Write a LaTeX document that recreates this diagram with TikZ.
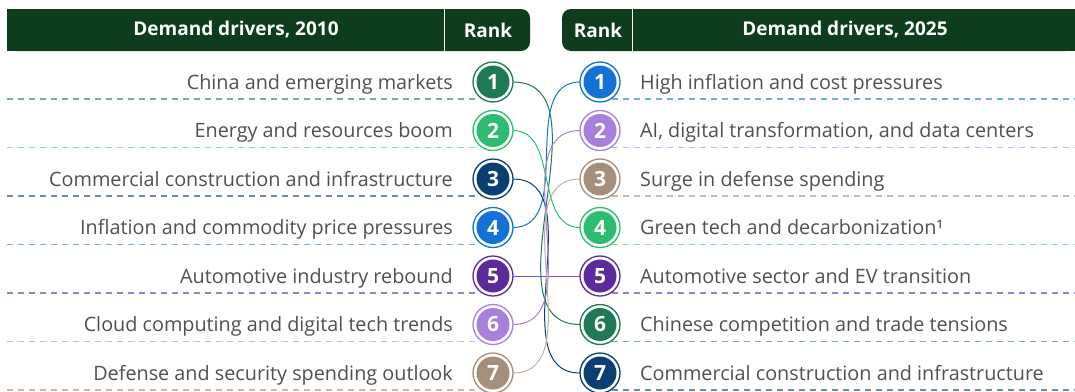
\documentclass[tikz,border=0pt]{standalone}
\usepackage{fontspec}
\setmainfont{Open Sans}
\definecolor{hdr}{HTML}{0D3D1C}
\definecolor{txt}{HTML}{505050}
\definecolor{cDkGreen}{HTML}{1E7A55}
\definecolor{cGreen}{HTML}{2DBD6E}
\definecolor{cNavy}{HTML}{0B3F73}
\definecolor{cBlue}{HTML}{1372D6}
\definecolor{cPurple}{HTML}{5C2A9D}
\definecolor{cLavender}{HTML}{A87FDC}
\definecolor{cTan}{HTML}{A58F7A}
\begin{document}
\begin{tikzpicture}[x=1pt,y=-1pt,
  hdrtext/.style={text=white,font=\fontsize{19}{22}\selectfont\bfseries,inner sep=0},
  label/.style={text=txt,font=\fontsize{19.8}{23}\selectfont,inner sep=0},
  rankdot/.style={circle,minimum size=40pt,inner sep=0,draw=#1,line width=1.3pt,fill=white,
    text=white,font=\fontsize{21}{24}\selectfont\bfseries,
    path picture={\fill[#1] (path picture bounding box.center) circle (16.5pt);}},
  rowline/.style={draw=#1!60,line width=1.2pt,dash pattern=on 6pt off 5pt},
  link/.style={draw=#1,line width=1pt,out=0,in=180}]
\useasboundingbox (0,0) rectangle (1075,391);

% header bars
\fill[hdr,rounded corners=9pt] (7,9) rectangle (530,51);
\fill[hdr] (7,9) rectangle (40,51);
\fill[hdr,rounded corners=9pt] (562,9) rectangle (1075,51);
\fill[hdr] (1040,9) rectangle (1075,51);
\draw[white,line width=1pt] (444,9) -- (444,51);
\draw[white,line width=1pt] (632,9) -- (632,51);
\node[hdrtext] (hL) at (236,30) {Demand drivers, 2010};
\node[hdrtext] (rL) at (488,30) {Rank};
\node[hdrtext] (rR) at (598,30) {Rank};
\node[hdrtext] (hR) at (845,30) {Demand drivers, 2025};

% dashed row rules
\foreach \y/\c in {82/cDkGreen,130.5/cGreen,179/cNavy,227.5/cBlue,276/cPurple,324.5/cLavender,373/cTan}
  \draw[rowline=\c] (7,\y+17) -- (480,\y+17);
\foreach \y/\c in {82/cBlue,130.5/cLavender,179/cTan,227.5/cGreen,276/cPurple,324.5/cDkGreen,373/cNavy}
  \draw[rowline=\c] (612,\y+17) -- (1075,\y+17);

% 2010 column
\node[label,anchor=base east] (t1) at (453,89) {China and emerging markets};
\node[label,anchor=base east] (t2) at (453,137.5) {Energy and resources boom};
\node[label,anchor=base east] (t3) at (453,186) {Commercial construction and infrastructure};
\node[label,anchor=base east] (t4) at (453,234.5) {Inflation and commodity price pressures};
\node[label,anchor=base east] (t5) at (453,283) {Automotive industry rebound};
\node[label,anchor=base east] (t6) at (453,331.5) {Cloud computing and digital tech trends};
\node[label,anchor=base east] (t7) at (453,380) {Defense and security spending outlook};

% 2025 column
\node[label,anchor=base west] (u1) at (640,89) {High inflation and cost pressures};
\node[label,anchor=base west] (u2) at (640,137.5) {AI, digital transformation, and data centers};
\node[label,anchor=base west] (u3) at (640,186) {Surge in defense spending};
\node[label,anchor=base west] (u4) at (640,234.5) {Green tech and decarbonization¹};
\node[label,anchor=base west] (u5) at (640,283) {Automotive sector and EV transition};
\node[label,anchor=base west] (u6) at (640,331.5) {Chinese competition and trade tensions};
\node[label,anchor=base west] (u7) at (640,380) {Commercial construction and infrastructure};

% links between ranks (drawn first, under the dots)
\coordinate (a1) at (513,82);   \coordinate (b1) at (580,82);
\coordinate (a2) at (513,130.5);\coordinate (b2) at (580,130.5);
\coordinate (a3) at (513,179);  \coordinate (b3) at (580,179);
\coordinate (a4) at (513,227.5);\coordinate (b4) at (580,227.5);
\coordinate (a5) at (513,276);  \coordinate (b5) at (580,276);
\coordinate (a6) at (513,324.5);\coordinate (b6) at (580,324.5);
\coordinate (a7) at (513,373);  \coordinate (b7) at (580,373);
\draw[link=cDkGreen] (a1) to (b6);
\draw[link=cGreen] (a2) to (b4);
\draw[link=cNavy] (a3) to (b7);
\draw[link=cBlue] (a4) to (b1);
\draw[draw=cPurple!80,line width=1pt] (a5) -- (b5);
\draw[link=cLavender] (a6) to (b2);
\draw[link=cTan!70] (a7) to (b3);

% rank dots
\node[rankdot=cDkGreen] (L1) at (493,82) {1};
\node[rankdot=cGreen] (L2) at (493,130.5) {2};
\node[rankdot=cNavy] (L3) at (493,179) {3};
\node[rankdot=cBlue] (L4) at (493,227.5) {4};
\node[rankdot=cPurple] (L5) at (493,276) {5};
\node[rankdot=cLavender] (L6) at (493,324.5) {6};
\node[rankdot=cTan] (L7) at (493,373) {7};
\node[rankdot=cBlue] (R1) at (600,82) {1};
\node[rankdot=cLavender] (R2) at (600,130.5) {2};
\node[rankdot=cTan] (R3) at (600,179) {3};
\node[rankdot=cGreen] (R4) at (600,227.5) {4};
\node[rankdot=cPurple] (R5) at (600,276) {5};
\node[rankdot=cDkGreen] (R6) at (600,324.5) {6};
\node[rankdot=cNavy] (R7) at (600,373) {7};
\end{tikzpicture}
\end{document}
